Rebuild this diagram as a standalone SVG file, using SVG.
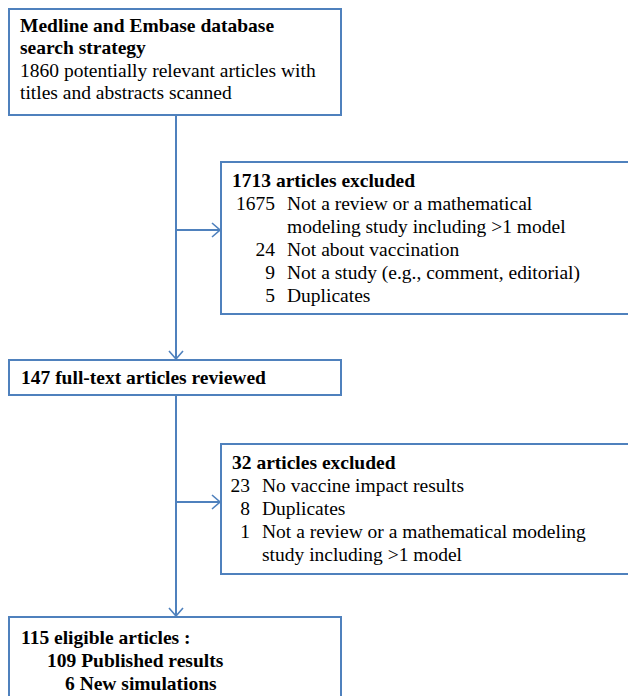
<svg xmlns="http://www.w3.org/2000/svg" width="628" height="696" viewBox="0 0 628 696">
<defs>
<marker id="arr" viewBox="0 0 10 16" refX="9" refY="8" markerWidth="10" markerHeight="16" markerUnits="userSpaceOnUse" orient="auto">
<path d="M1,1 L9,8 L1,15" fill="none" stroke="#4F81BD" stroke-width="1.6"/>
</marker>
</defs>
<style>
.box{fill:#fff;stroke:#4F81BD;stroke-width:2}
.t{font-family:"Liberation Serif","Times New Roman",serif;font-size:19.5px;fill:#000}
.b{font-weight:bold}
.e{text-anchor:end}
.c{fill:none;stroke:#4F81BD;stroke-width:2}
</style>
<g id="connectors">
<line class="c" x1="176" y1="115" x2="176" y2="359" marker-end="url(#arr)"/>
<line class="c" x1="176" y1="230" x2="220" y2="230" marker-end="url(#arr)"/>
<line class="c" x1="176" y1="395" x2="176" y2="616" marker-end="url(#arr)"/>
<line class="c" x1="176" y1="502" x2="220" y2="502" marker-end="url(#arr)"/>
</g>
<g id="n1">
<rect class="box" x="9" y="9" width="332" height="106"/>
<text class="t b" x="20" y="32">Medline and Embase database</text>
<text class="t b" x="20" y="54">search strategy</text>
<text class="t" x="20" y="77">1860 potentially relevant articles with</text>
<text class="t" x="20" y="99">titles and abstracts scanned</text>
</g>
<g id="n2">
<rect class="box" x="221" y="162" width="420" height="152"/>
<text class="t b" x="232" y="187">1713 articles excluded</text>
<text class="t e" x="275" y="210">1675</text>
<text class="t" x="287" y="210">Not a review or a mathematical</text>
<text class="t" x="287" y="233">modeling study including &gt;1 model</text>
<text class="t e" x="275" y="256">24</text>
<text class="t" x="287" y="256">Not about vaccination</text>
<text class="t e" x="275" y="279">9</text>
<text class="t" x="287" y="279">Not a study (e.g., comment, editorial)</text>
<text class="t e" x="275" y="302">5</text>
<text class="t" x="287" y="302">Duplicates</text>
</g>
<g id="n3">
<rect class="box" x="9" y="360" width="332" height="35"/>
<text class="t b" x="21" y="384">147 full-text articles reviewed</text>
</g>
<g id="n4">
<rect class="box" x="221" y="444" width="420" height="130"/>
<text class="t b" x="232" y="469">32 articles excluded</text>
<text class="t e" x="250" y="492">23</text>
<text class="t" x="262" y="492">No vaccine impact results</text>
<text class="t e" x="250" y="515">8</text>
<text class="t" x="262" y="515">Duplicates</text>
<text class="t e" x="250" y="538">1</text>
<text class="t" x="262" y="538">Not a review or a mathematical modeling</text>
<text class="t" x="262" y="561">study including &gt;1 model</text>
</g>
<g id="n5">
<rect class="box" x="9" y="617" width="332" height="90"/>
<text class="t b" x="21" y="644">115 eligible articles :</text>
<text class="t b" x="47" y="667">109 Published results</text>
<text class="t b" x="65" y="690">6 New simulations</text>
</g>
</svg>
